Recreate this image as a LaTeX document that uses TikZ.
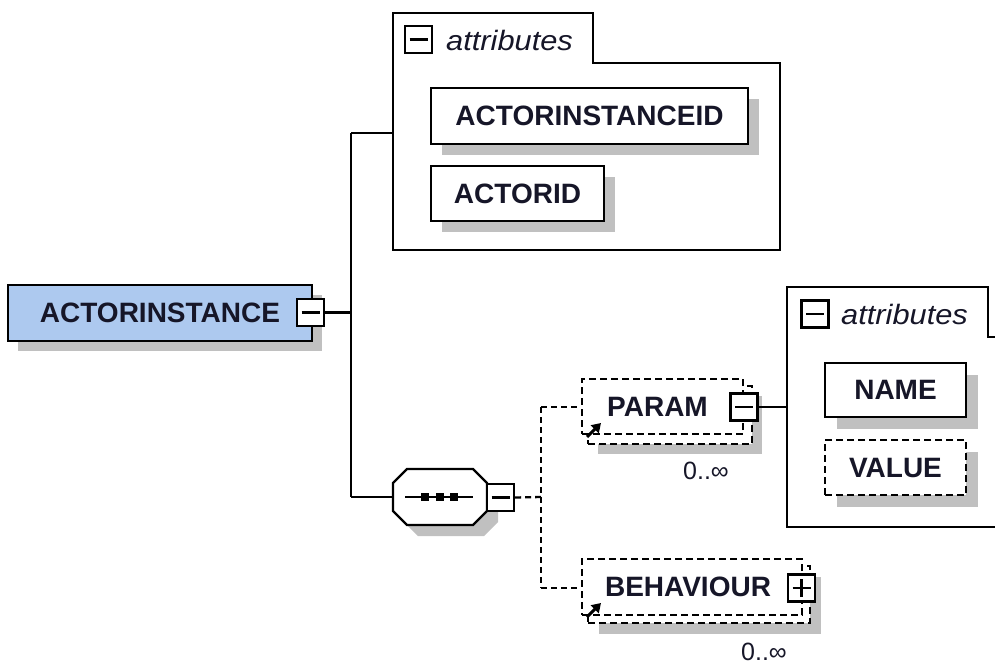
\documentclass[tikz,border=0pt]{standalone}
\usepackage{fontspec}
\setmainfont{Liberation Sans}
\usetikzlibrary{arrows.meta,shadows}

\definecolor{shadowgray}{RGB}{192,192,192}
\definecolor{rootfill}{RGB}{173,201,239}
\definecolor{ink}{RGB}{22,22,40}

\newcommand\elemfont{\fontsize{28}{30}\selectfont\bfseries}
\newcommand\grpfont{\fontsize{28}{30}\selectfont\itshape}
\newcommand\occfont{\fontsize{25}{27}\selectfont}

\begin{document}
\begin{tikzpicture}[x=1pt,y=-1pt,line join=miter,
  shadowed/.style={drop shadow={shadow xshift=#1,shadow yshift=-#1,fill=shadowgray,opacity=1}},
  shadowed/.default=11pt,
  elembox/.style={draw,line width=2.4pt,fill=white,inner sep=0pt,text=ink,font=\elemfont},
  optbox/.style={elembox,dash pattern=on 7pt off 4pt},
  toggle/.style={draw,line width=2.2pt,fill=white,minimum size=27pt,inner sep=0pt},
  minus/.style={toggle,path picture={
      \draw[line width=2.2pt] ([xshift=-9pt]path picture bounding box.center)
        -- ([xshift=9pt]path picture bounding box.center);}},
  plus/.style={toggle,path picture={
      \draw[line width=2.2pt] ([xshift=-9pt]path picture bounding box.center)
        -- ([xshift=9pt]path picture bounding box.center);
      \draw[line width=2.2pt] ([yshift=-9pt]path picture bounding box.center)
        -- ([yshift=9pt]path picture bounding box.center);}},
  grplabel/.style={anchor=west,inner sep=0pt,text=ink,font=\grpfont},
  occ/.style={anchor=east,inner sep=0pt,text=ink,font=\occfont},
  wire/.style={line width=2.3pt},
  optwire/.style={wire,dash pattern=on 6pt off 4pt},
  refarrow/.style={line width=3pt,-{Triangle[length=9pt,width=11pt]}}
]
\useasboundingbox (0,0) rectangle (995,664);

% ---- root element ----
\node[elembox,fill=rootfill,shadowed=10pt,minimum width=304pt,minimum height=56pt]
  (root) at (160,313) {ACTORINSTANCE};
\node[minus] (rootT) at (310.5,312.5) {};

% ---- trunk ----
\coordinate (trunkTop) at (351,133);
\coordinate (trunkBot) at (351,497);
\coordinate (grpA) at (393,133);
\draw[wire] (rootT.east) -- (rootT.east -| trunkTop);
\draw[wire] (trunkTop) -- (trunkBot);
\draw[wire] (trunkTop) -- (grpA);

% ---- attributes of ACTORINSTANCE ----
\draw[wire,line width=2.4pt,fill=white]
  (393,13) -- (593,13) -- (593,63) -- (780,63) -- (780,250) -- (393,250) -- cycle;
\node[minus] (grpAT) at (418.5,39.5) {};
\node[grplabel] (grpAL) at (446,40) {\scalebox{1.1}[1]{attributes}};
\node[elembox,shadowed,minimum width=317pt,minimum height=56pt]
  (aid) at (589.5,116) {ACTORINSTANCEID};
\node[elembox,shadowed,minimum width=173pt,minimum height=55pt]
  (actorid) at (517.5,193.5) {ACTORID};

% ---- sequence compositor ----
\node[minimum width=94pt,minimum height=56pt,inner sep=0pt] (seq) at (440,497) {};
\fill[shadowgray] (418,480) -- (484,480) -- (498,494) -- (498,522) -- (484,536)
  -- (418,536) -- (404,522) -- (404,494) -- cycle;
\draw[wire,line width=2.4pt,fill=white] (407,469) -- (473,469) -- (487,483) -- (487,511)
  -- (473,525) -- (407,525) -- (393,511) -- (393,483) -- cycle;
\draw[wire] (405,497) -- (473,497);
\foreach \dx in {425,440,454}
  \fill (\dx-4,493) rectangle (\dx+4,501);
\node[minus] (seqT) at (500.5,497.5) {};
\draw[wire] (trunkBot) -- (seq.west);

% ---- optional branches ----
\coordinate (fork) at (541,497);
\coordinate (forkTop) at (541,407);
\coordinate (forkBot) at (541,588);
\draw[optwire] (seqT.east) -- (fork);
\draw[optwire] (forkTop) -- (forkBot);

% PARAM (0..unbounded, by reference)
\fill[shadowgray] (598,396) rectangle (762,454);
\node[optbox,minimum width=164pt,minimum height=58pt] (paramBack) at (670,415) {};
\node[optbox,minimum width=161pt,minimum height=55pt] (param) at (662.5,406.5)
  {\hspace*{-10pt}PARAM};
\draw[refarrow] (587,437) -- (601,423);
\node[minus] (paramT) at (744,407) {};
\node[occ] (paramOcc) at (729,471) {0..∞};
\draw[optwire] (forkTop) -- (param.west |- forkTop);

% BEHAVIOUR (0..unbounded, by reference)
\fill[shadowgray] (599,577) rectangle (821,634);
\node[optbox,minimum width=222pt,minimum height=57pt] (behavBack) at (699,594.5) {};
\node[optbox,minimum width=220pt,minimum height=56pt] (behav) at (692,587)
  {\hspace*{-8pt}BEHAVIOUR};
\draw[refarrow] (587,617) -- (601,603);
\node[plus] (behavT) at (801.5,588) {};
\node[occ] (behavOcc) at (787,652) {0..∞};
\draw[optwire] (forkBot) -- (behav.west |- forkBot);

% ---- attributes of PARAM ----
\coordinate (grpB) at (787,407);
\draw[wire] (paramT.east) -- (grpB);
\draw[wire,line width=2.4pt,fill=white]
  (999,337) -- (988,337) -- (988,287) -- (787,287) -- (787,527) -- (999,527);
\node[minus] (grpBT) at (815,314) {};
\node[grplabel] (grpBL) at (841,314) {\scalebox{1.1}[1]{attributes}};
\node[elembox,shadowed=12pt,minimum width=141pt,minimum height=54pt]
  (name) at (895.5,390) {NAME};
\node[optbox,shadowed=12pt,minimum width=141pt,minimum height=55pt]
  (value) at (895.5,467.5) {VALUE};
\end{tikzpicture}
\end{document}
